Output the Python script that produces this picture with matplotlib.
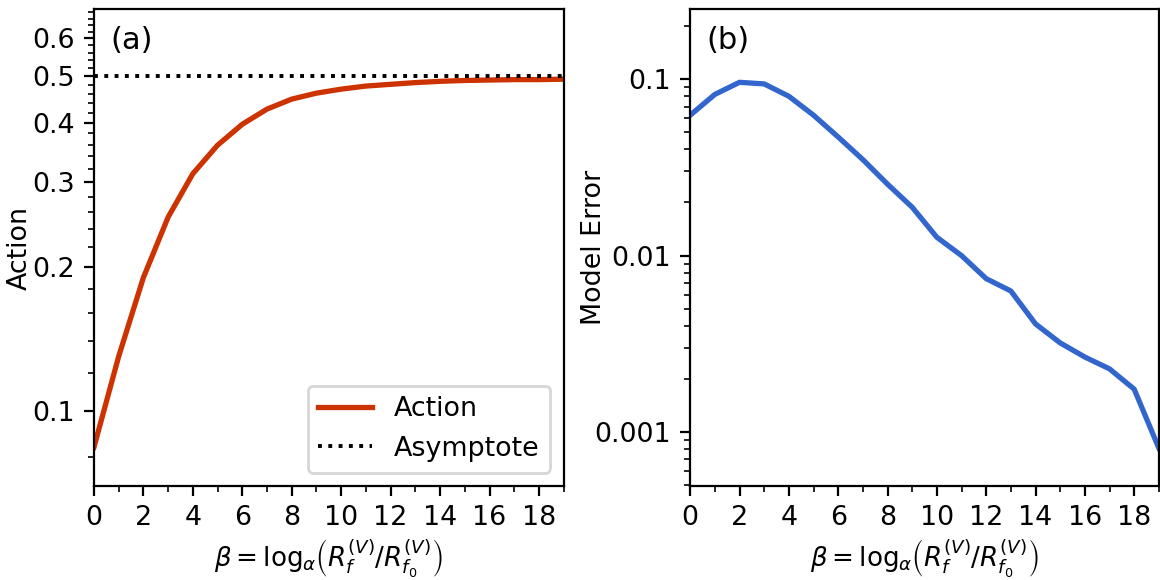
import numpy as np
import matplotlib
matplotlib.use("Agg")
import matplotlib.pyplot as plt
from matplotlib.ticker import MultipleLocator, FixedLocator, FixedFormatter, LogLocator, NullFormatter

# beta values (both panels)
beta = list(range(0, 20))

# panel (a): action vs beta
action = [0.084, 0.13, 0.19, 0.254, 0.313, 0.359, 0.397, 0.427, 0.448, 0.461,
          0.47, 0.477, 0.481, 0.485, 0.488, 0.490, 0.491, 0.492, 0.492, 0.493]
asymptote = 0.5

# panel (b): model error vs beta
model_error = [0.0625, 0.082, 0.096, 0.094, 0.080, 0.0625, 0.047, 0.035, 0.0254, 0.0188,
               0.0127, 0.0100, 0.0074, 0.0063, 0.0041, 0.0032, 0.00266, 0.00228, 0.00175, 0.00081]

a_ticks = [0.1, 0.2, 0.3, 0.4, 0.5, 0.6]
a_labels = ["0.1", "0.2", "0.3", "0.4", "0.5", "0.6"]
b_ticks = [0.001, 0.01, 0.1]
b_labels = ["0.001", "0.01", "0.1"]

xlabel = r'$\beta = \log_\alpha\!\left(R_f^{(V)}/R_{f_0}^{(V)}\right)$'

plt.rcParams['font.size'] = 9.7

fig = plt.figure(figsize=(5.8, 2.9), dpi=200)
ax1 = fig.add_axes([0.081, 0.162, 0.405, 0.822])
ax2 = fig.add_axes([0.595, 0.162, 0.404, 0.822])

# (a)
ax1.plot(beta, action, color='#cc3300', linewidth=1.9, label='Action')
ax1.axhline(asymptote, color='black', linestyle=':', linewidth=1.4, label='Asymptote')
ax1.set_yscale('log')
ax1.set_ylim(0.0697, 0.69)
ax1.set_xlim(0, 19)
ax1.yaxis.set_major_locator(FixedLocator(a_ticks))
ax1.yaxis.set_major_formatter(FixedFormatter(a_labels))
ax1.yaxis.set_minor_locator(MultipleLocator(0.02))
ax1.yaxis.set_minor_formatter(NullFormatter())
ax1.xaxis.set_major_locator(MultipleLocator(2))
ax1.xaxis.set_minor_locator(MultipleLocator(1))
ax1.set_ylabel('Action')
ax1.yaxis.set_label_coords(-0.13, 0.5)
ax1.set_xlabel(xlabel, fontsize=9.4, labelpad=2)
ax1.text(0.035, 0.965, '(a)', transform=ax1.transAxes, fontsize=11, va='top', ha='left')
ax1.legend(loc='lower right')

# (b)
ax2.plot(beta, model_error, color='#3366cc', linewidth=1.9)
ax2.set_yscale('log')
ax2.set_ylim(0.000494, 0.249)
ax2.set_xlim(0, 19)
ax2.yaxis.set_major_locator(FixedLocator(b_ticks))
ax2.yaxis.set_major_formatter(FixedFormatter(b_labels))
ax2.yaxis.set_minor_locator(LogLocator(base=10, subs=np.arange(2, 10)))
ax2.yaxis.set_minor_formatter(NullFormatter())
ax2.xaxis.set_major_locator(MultipleLocator(2))
ax2.xaxis.set_minor_locator(MultipleLocator(1))
ax2.set_ylabel('Model Error')
ax2.yaxis.set_label_coords(-0.177, 0.5)
ax2.set_xlabel(xlabel, fontsize=9.4, labelpad=2)
ax2.text(0.035, 0.965, '(b)', transform=ax2.transAxes, fontsize=11, va='top', ha='left')

fig.savefig('out.png', dpi=200)
